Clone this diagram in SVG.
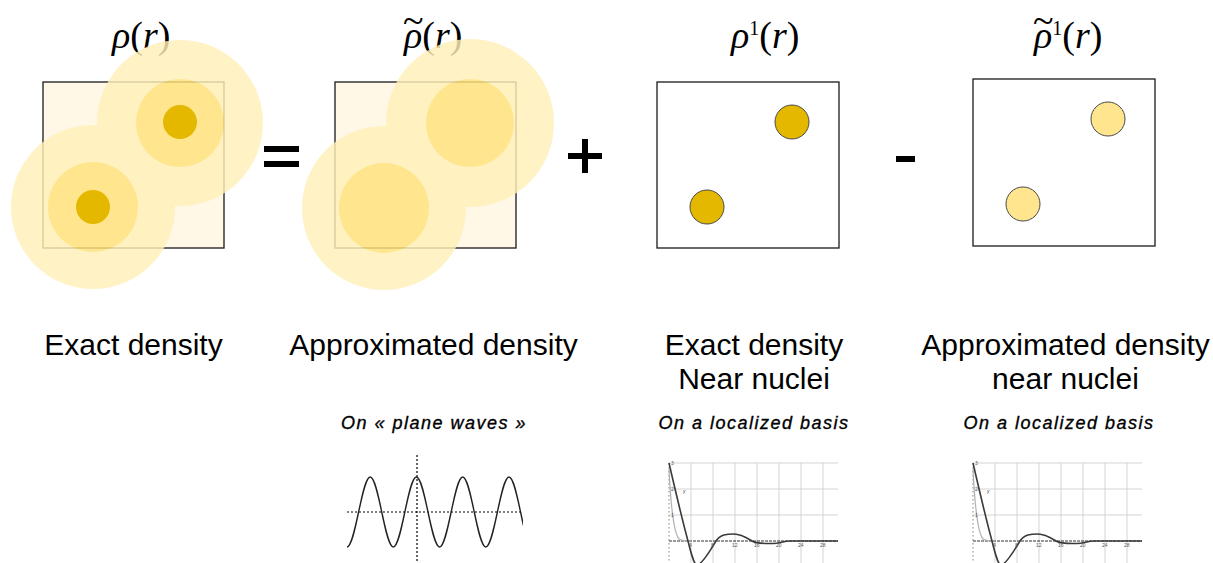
<svg xmlns="http://www.w3.org/2000/svg" width="1213" height="563" viewBox="0 0 1213 563">
<style>
.box{stroke:#1a1a1a;stroke-width:1.3}
.cream{fill:#FFF8E6}
.halo{fill:#FFF0B8}
.mid{fill:#FFE27A}
.core{fill:#E5B800}
.nuc{stroke:#4a4a4a;stroke-width:1}
.math{font-family:"Liberation Serif",serif;font-size:38px;fill:#000}
.it{font-style:italic}
.lbl{font-family:"Liberation Sans",Arial,sans-serif;font-size:30px;fill:#000;text-anchor:middle}
.sub{font-family:"Liberation Sans",Arial,sans-serif;font-size:18px;font-style:italic;letter-spacing:1.5px;fill:#000;stroke:#000;stroke-width:0.35;text-anchor:middle}
.op{fill:#000}
.grid{stroke:#c8c8c8;stroke-width:0.8;fill:none}
.ax{stroke:#333;stroke-width:1.2;stroke-dasharray:3 1;fill:none}
.yax{stroke:#777;stroke-width:0.9;stroke-dasharray:1.5 2.5;fill:none}
.curve{stroke:#3a3a3a;stroke-width:1.6;fill:none}
.curve2{stroke:#b0b0b0;stroke-width:1.2;fill:none}
.tick{font-family:"Liberation Sans",Arial,sans-serif;font-size:5px;fill:#555}
</style>
<defs>
<clipPath id="sineclip"><rect x="340" y="440" width="183" height="123"/></clipPath>
</defs>

<g id="title1"><text class="math" x="112" y="48"><tspan class="it">ρ</tspan>(<tspan class="it">r</tspan>)</text></g>
<g id="title2"><text class="math" x="404" y="48"><tspan class="it">ρ</tspan>(<tspan class="it">r</tspan>)<tspan x="403" y="33">~</tspan></text></g>
<g id="title3"><text class="math" x="731" y="48"><tspan class="it">ρ</tspan><tspan font-size="20" dy="-13">1</tspan><tspan dy="13">(</tspan><tspan class="it">r</tspan>)</text></g>
<g id="title4"><text class="math" x="1034" y="48"><tspan class="it">ρ</tspan><tspan font-size="20" dy="-13">1</tspan><tspan dy="13">(</tspan><tspan class="it">r</tspan>)<tspan x="1033" y="33">~</tspan></text></g>

<g id="panel1">
<rect class="box cream" x="43" y="82" width="181" height="166"/>
<g opacity="0.82">
<circle class="halo" cx="180" cy="123" r="83"/>
<circle class="halo" cx="93" cy="207" r="82"/>
<circle class="mid" cx="180" cy="123" r="44"/>
<circle class="mid" cx="93" cy="207" r="45"/>
</g>
<circle class="core" cx="180" cy="122" r="17"/>
<circle class="core" cx="93" cy="207" r="17"/>
</g>

<g id="equals"><rect class="op" x="264" y="146" width="35" height="6"/><rect class="op" x="264" y="161" width="35" height="6"/></g>

<g id="panel2">
<rect class="box cream" x="335" y="82" width="181" height="166"/>
<g opacity="0.82">
<circle class="halo" cx="470" cy="123" r="84"/>
<circle class="halo" cx="384" cy="208" r="82"/>
<circle class="mid" cx="470" cy="123" r="44"/>
<circle class="mid" cx="384" cy="208" r="45"/>
</g>
</g>

<g id="plus"><rect class="op" x="568" y="153" width="34" height="6"/><rect class="op" x="582" y="139" width="6" height="34"/></g>

<g id="panel3">
<rect class="box" fill="#fff" x="657" y="82" width="182" height="166"/>
<circle class="core nuc" cx="792" cy="122" r="17"/>
<circle class="core nuc" cx="707" cy="207" r="17"/>
</g>

<g id="minus"><rect class="op" x="896" y="156" width="19" height="6"/></g>

<g id="panel4">
<rect class="box" fill="#fff" x="973" y="79" width="182" height="167"/>
<circle class="nuc" fill="#FFE68E" cx="1108" cy="119" r="17"/>
<circle class="nuc" fill="#FFE68E" cx="1023" cy="204" r="17"/>
</g>

<g id="labels">
<text class="lbl" x="133.5" y="355">Exact density</text>
<text class="lbl" x="433.5" y="355">Approximated density</text>
<text class="lbl" x="754" y="355">Exact density</text>
<text class="lbl" x="754" y="389">Near nuclei</text>
<text class="lbl" x="1065.5" y="355">Approximated density</text>
<text class="lbl" x="1065.5" y="389">near nuclei</text>
<text class="sub" x="434" y="429">On « plane waves »</text>
<text class="sub" x="754" y="429">On a localized basis</text>
<text class="sub" x="1059" y="429">On a localized basis</text>
</g>

<g id="sineplot">
<line x1="347" y1="512" x2="523" y2="512" stroke="#000" stroke-width="1.2" stroke-dasharray="2 2"/>
<line x1="417" y1="455" x2="417" y2="563" stroke="#000" stroke-width="1.2" stroke-dasharray="2 2"/>
<path clip-path="url(#sineclip)" fill="none" stroke="#222" stroke-width="1.4" d="M347,547 C355.4,547 361.8,477 370.2,477 S384.9,547 393.3,547 S408,477 416.4,477 S431.2,547 439.6,547 S454.3,477 462.7,477 S477.4,547 485.8,547 S500.6,477 509,477 S523.7,547 532.1,547"/>
</g>

<g id="locplot1" transform="translate(669,541)">
<path class="grid" d="M22,-78V30M44,-78V30M66,-78V30M88,-78V30M110,-78V30M132,-78V30M154,-78V30M0,-78H169M0,-52H169M0,-26H169"/>
<path class="yax" d="M0,-78V30"/>
<path class="ax" d="M0,0H169"/>
<path class="curve2" d="M0,-72 C2,-30 5,-8 10,-2 C13,0 16,0 22,0"/>
<path class="curve" d="M0,-78 C6,-52 13,-22 19,0 C22,12 25,24 28,24 C33,24 42,8 47,0 C51,-6.5 58,-7 65,-7 C72,-7 78,-3 83,0 C88,3 97,2.5 104,2.5 C110,2.5 115,0 121,0 L169,0"/>
<text class="tick" x="2" y="-76">3</text><text class="tick" x="2" y="-50">2</text><text class="tick" x="2" y="-24">1</text>
<text class="tick" x="14" y="-48" font-style="italic" font-size="7">y</text>
<text class="tick" x="20" y="6">4</text><text class="tick" x="42" y="6">8</text><text class="tick" x="63" y="6">12</text><text class="tick" x="85" y="6">16</text><text class="tick" x="107" y="6">20</text><text class="tick" x="129" y="6">24</text><text class="tick" x="151" y="6">28</text>
</g>

<g id="locplot2" transform="translate(973,541)">
<path class="grid" d="M22,-78V30M44,-78V30M66,-78V30M88,-78V30M110,-78V30M132,-78V30M154,-78V30M0,-78H169M0,-52H169M0,-26H169"/>
<path class="yax" d="M0,-78V30"/>
<path class="ax" d="M0,0H169"/>
<path class="curve2" d="M0,-72 C2,-30 5,-8 10,-2 C13,0 16,0 22,0"/>
<path class="curve" d="M0,-78 C6,-52 13,-22 19,0 C22,12 25,24 28,24 C33,24 42,8 47,0 C51,-6.5 58,-7 65,-7 C72,-7 78,-3 83,0 C88,3 97,2.5 104,2.5 C110,2.5 115,0 121,0 L169,0"/>
<text class="tick" x="2" y="-76">3</text><text class="tick" x="2" y="-50">2</text><text class="tick" x="2" y="-24">1</text>
<text class="tick" x="14" y="-48" font-style="italic" font-size="7">y</text>
<text class="tick" x="20" y="6">4</text><text class="tick" x="42" y="6">8</text><text class="tick" x="63" y="6">12</text><text class="tick" x="85" y="6">16</text><text class="tick" x="107" y="6">20</text><text class="tick" x="129" y="6">24</text><text class="tick" x="151" y="6">28</text>
</g>
</svg>
